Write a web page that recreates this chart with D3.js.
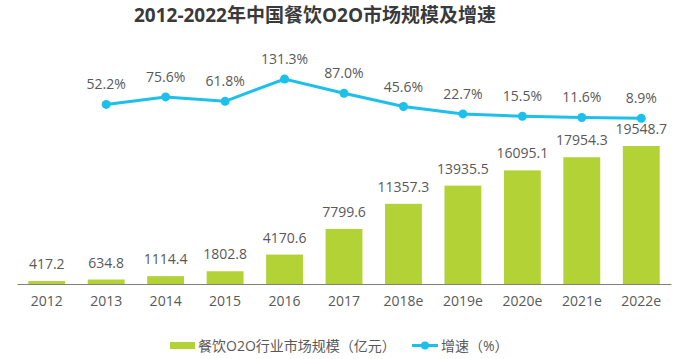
<!DOCTYPE html>
<html>
<head>
<meta charset="utf-8">
<script src="https://cdn.jsdelivr.net/npm/d3@7"></script>
<style>
  body { margin: 0; background: #fff; }
  text { font-family: "Open Sans", "Noto Sans CJK SC", sans-serif; }
</style>
</head>
<body>
<div id="VizBox"></div>
<script>
var years = ["2012", "2013", "2014", "2015", "2016", "2017", "2018e", "2019e", "2020e", "2021e", "2022e"];
var scale = [417.2, 634.8, 1114.4, 1802.8, 4170.6, 7799.6, 11357.3, 13935.5, 16095.1, 17954.3, 19548.7];
var growth = [null, 52.2, 75.6, 61.8, 131.3, 87.0, 45.6, 22.7, 15.5, 11.6, 8.9];

var W = 681, H = 359;
var svg = d3.select("#VizBox").append("svg")
  .attr("width", W).attr("height", H);

// title
svg.append("text")
  .attr("x", 315).attr("y", 22)
  .attr("text-anchor", "middle")
  .style("font-size", "19px").style("font-weight", "bold")
  .attr("fill", "#3a3a3a")
  .text("2012-2022年中国餐饮O2O市场规模及增速");

var x = d3.scaleBand().domain(years).range([17, 671]).paddingInner(0.38).paddingOuter(0.19);
var y = d3.scaleLinear().domain([0, 19548.7]).range([284, 146]);
var y2 = d3.scaleLinear().domain([0, 131.3]).range([121.2, 79]);

// bars
svg.selectAll("rect.bar")
  .data(years)
  .enter().append("rect")
  .attr("class", "bar")
  .attr("x", function(d) { return x(d); })
  .attr("y", function(d, i) { return y(scale[i]); })
  .attr("width", x.bandwidth())
  .attr("height", function(d, i) { return y(0) - y(scale[i]); })
  .attr("fill", "#b2d235");

svg.selectAll("text.barlab")
  .data(years)
  .enter().append("text")
  .attr("class", "barlab")
  .attr("x", function(d) { return x(d) + x.bandwidth() / 2; })
  .attr("y", function(d, i) { return y(scale[i]) - 12; })
  .attr("text-anchor", "middle")
  .style("font-size", "14px")
  .attr("fill", "#595959")
  .text(function(d, i) { return scale[i].toFixed(1); });

// x axis
var xAxis = svg.append("g")
  .attr("transform", "translate(0,284)")
  .call(d3.axisBottom(x).tickSize(0).tickPadding(12));
xAxis.select(".domain").attr("stroke", "#7f7f7f").attr("stroke-width", 1.2);
xAxis.selectAll("text")
  .style("font-size", "14px")
  .style("font-family", "'Open Sans', sans-serif")
  .attr("fill", "#595959");

// growth line
var pts = years.map(function(d, i) { return {year: d, v: growth[i]}; })
  .filter(function(d) { return d.v !== null; });

var line = d3.line()
  .x(function(d) { return x(d.year) + x.bandwidth() / 2; })
  .y(function(d) { return y2(d.v); });

svg.append("path")
  .datum(pts)
  .attr("d", line)
  .attr("fill", "none")
  .attr("stroke", "#1cc0ea")
  .attr("stroke-width", 3);

svg.selectAll("circle.pt")
  .data(pts)
  .enter().append("circle")
  .attr("class", "pt")
  .attr("cx", function(d) { return x(d.year) + x.bandwidth() / 2; })
  .attr("cy", function(d) { return y2(d.v); })
  .attr("r", 4.5)
  .attr("fill", "#1cc0ea");

svg.selectAll("text.ptlab")
  .data(pts)
  .enter().append("text")
  .attr("class", "ptlab")
  .attr("x", function(d) { return x(d.year) + x.bandwidth() / 2; })
  .attr("y", function(d) { return y2(d.v) - 15; })
  .attr("text-anchor", "middle")
  .style("font-size", "14px")
  .attr("fill", "#595959")
  .text(function(d) { return d.v.toFixed(1) + "%"; });

// legend
var lg = svg.append("g");
lg.append("rect")
  .attr("x", 170).attr("y", 342).attr("width", 25).attr("height", 7)
  .attr("fill", "#b2d235");
lg.append("text")
  .attr("x", 198).attr("y", 350.5)
  .style("font-size", "14px").attr("fill", "#595959")
  .text("餐饮O2O行业市场规模（亿元）");
lg.append("line")
  .attr("x1", 412).attr("x2", 438).attr("y1", 345.5).attr("y2", 345.5)
  .attr("stroke", "#1cc0ea").attr("stroke-width", 3);
lg.append("circle")
  .attr("cx", 425).attr("cy", 345.5).attr("r", 4).attr("fill", "#1cc0ea");
lg.append("text")
  .attr("x", 441).attr("y", 350.5)
  .style("font-size", "14px").attr("fill", "#595959")
  .text("增速（%）");
</script>
</body>
</html>
